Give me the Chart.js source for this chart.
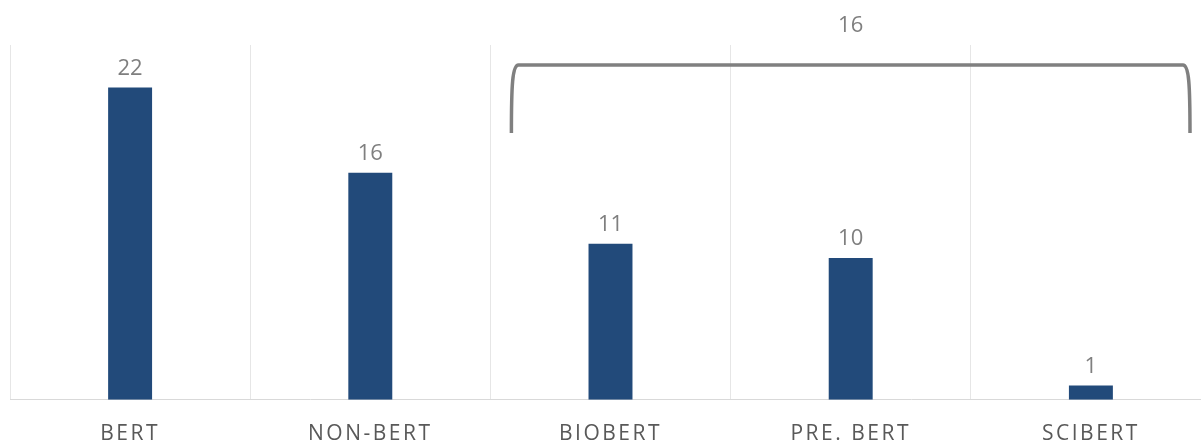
<!DOCTYPE html>
<html>
<head>
<meta charset="utf-8">
<script src="https://cdn.jsdelivr.net/npm/chart.js@4/dist/chart.umd.min.js"></script>
<style>
  html, body { margin: 0; padding: 0; background: #fff; overflow: hidden; }
  #wrap { width: 1212px; height: 469px; }
</style>
</head>
<body>
<div id="wrap"><canvas id="chart"></canvas></div>
<script>
// Chart data
const categories = ['BERT', 'NON-BERT', 'BIOBERT', 'PRE. BERT', 'SCIBERT'];
const counts = [22, 16, 11, 10, 1];
// bracket over the BERT variants
const bracketRange = [2, 4];
const bracketLabel = ['16'];

const FONT = "'Open Sans', sans-serif";
const GRAY = '#7f7f7f';

// value labels above bars + bracket over a group of bars
const annotations = {
  id: 'annotations',
  beforeDraw(chart) {
    chart.ctx.letterSpacing = '2.5px';
  },
  beforeDatasetsDraw(chart) {
    chart.ctx.letterSpacing = '0px';
  },
  afterDatasetsDraw(chart) {
    const ctx = chart.ctx;
    const meta = chart.getDatasetMeta(0);
    ctx.save();
    ctx.fillStyle = GRAY;
    ctx.font = '22px ' + FONT;
    ctx.textAlign = 'center';
    ctx.textBaseline = 'bottom';
    meta.data.forEach((bar, i) => {
      ctx.fillText(String(counts[i]), bar.x, bar.y - 8);
    });

    // bracket
    const x = chart.scales.x;
    const half = (x.getPixelForValue(1) - x.getPixelForValue(0)) / 2;
    const left = x.getPixelForValue(bracketRange[0]) - half + 21;
    const right = x.getPixelForValue(bracketRange[1]) + half - 21;
    const top = chart.chartArea.top + 20;
    const bottom = top + 68;
    ctx.strokeStyle = '#808080';
    ctx.lineWidth = 3.5;
    ctx.lineCap = 'butt';
    ctx.beginPath();
    ctx.moveTo(left, bottom);
    ctx.bezierCurveTo(left, top + 20, left + 1, top, left + 7, top);
    ctx.lineTo(right - 7, top);
    ctx.bezierCurveTo(right - 1, top, right, top + 20, right, bottom);
    ctx.stroke();

    ctx.textBaseline = 'middle';
    ctx.fillText(bracketLabel[0], (left + right) / 2, 26);
    ctx.restore();
  }
};

new Chart(document.getElementById('chart'), {
  type: 'bar',
  data: {
    labels: categories,
    datasets: [{
      data: counts,
      backgroundColor: '#224a7a',
      borderWidth: 0,
      categoryPercentage: 1,
      barPercentage: 0.183
    }]
  },
  options: {
    responsive: true,
    maintainAspectRatio: false,
    animation: false,
    layout: { padding: { top: 45, left: 10, right: 1, bottom: 0 } },
    plugins: {
      legend: { display: false },
      tooltip: { enabled: false }
    },
    scales: {
      x: {
        grid: {
          color: '#e6e6e6',
          lineWidth: 1,
          drawTicks: false,
          offset: true
        },
        border: { display: true, color: '#d9d9d9', width: 1 },
        ticks: {
          color: '#595959',
          font: { family: FONT, size: 21 },
          padding: 22,
          maxRotation: 0
        }
      },
      y: {
        display: false,
        min: 0,
        max: 25
      }
    }
  },
  plugins: [annotations]
});
</script>
</body>
</html>
